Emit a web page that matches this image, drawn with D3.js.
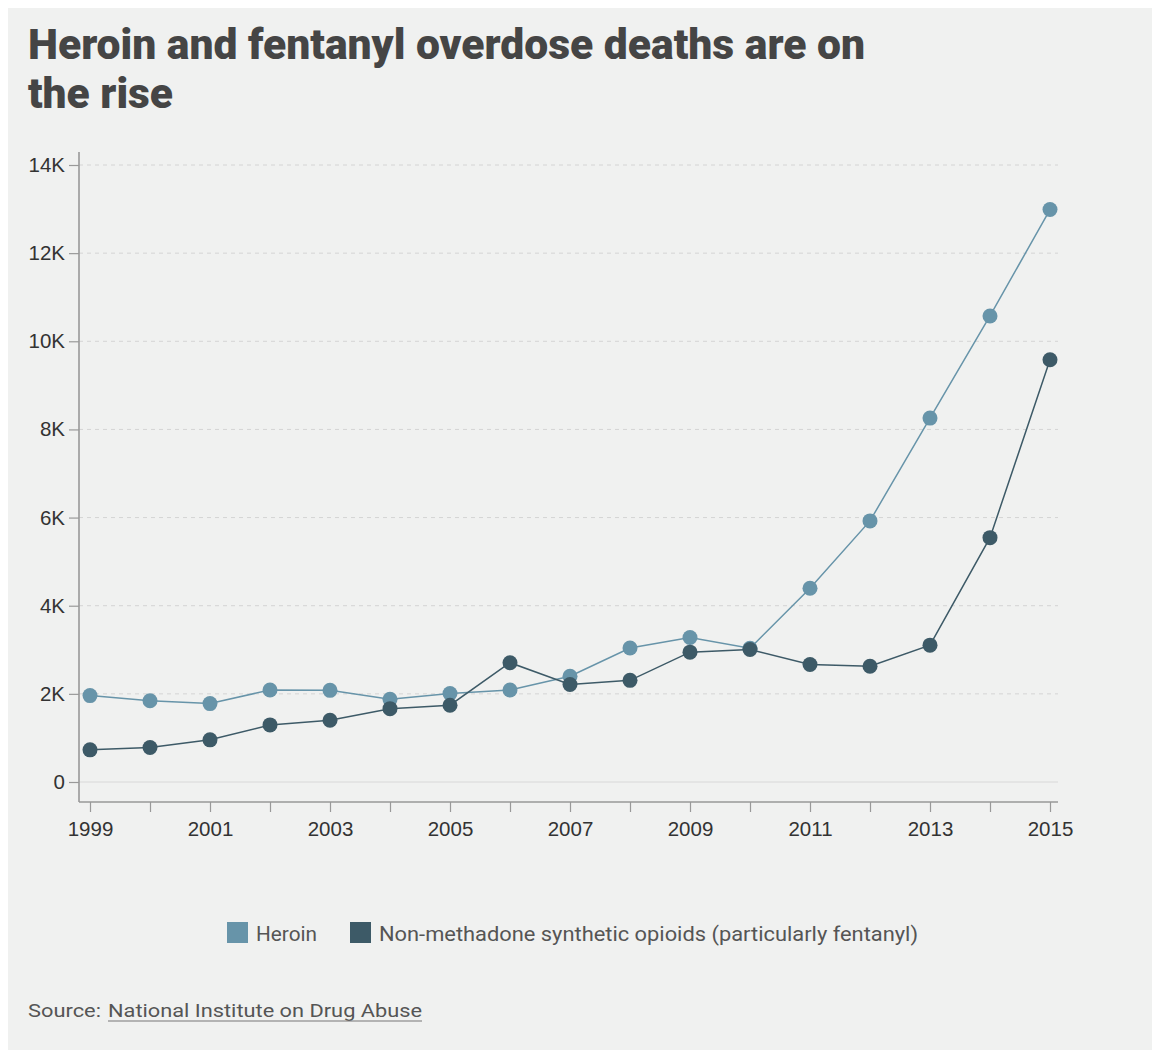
<!DOCTYPE html>
<html>
<head>
<meta charset="utf-8">
<script src="https://cdn.jsdelivr.net/npm/d3@7"></script>
<style>
  html, body { margin: 0; padding: 0; background: #ffffff; }
  svg { display: block; }
</style>
</head>
<body>
<svg id="chart" width="1154" height="1053"></svg>
<script>
// ---- data ----
const years = [1999, 2000, 2001, 2002, 2003, 2004, 2005, 2006, 2007, 2008, 2009, 2010, 2011, 2012, 2013, 2014, 2015];
const heroin = [1960, 1842, 1779, 2089, 2080, 1878, 2009, 2088, 2399, 3041, 3278, 3036, 4397, 5925, 8257, 10574, 12989];
const synthetic = [730, 782, 957, 1295, 1400, 1664, 1742, 2707, 2213, 2306, 2946, 3007, 2666, 2628, 3105, 5544, 9580];
const seriesNames = ["Heroin", "Non-methadone synthetic opioids (particularly fentanyl)"];
const seriesColors = ["#6794a9", "#3d5a67"];
const yTicks = [0, 2000, 4000, 6000, 8000, 10000, 12000, 14000];
const yTickLabels = ["0", "2K", "4K", "6K", "8K", "10K", "12K", "14K"];
const xLabelYears = [1999, 2001, 2003, 2005, 2007, 2009, 2011, 2013, 2015];
const titleLines = ["Heroin and fentanyl overdose deaths are on", "the rise"];
const sourceLabel = "Source:";
const sourceLink = "National Institute on Drug Abuse";

const svg = d3.select("#chart");

// panel background
svg.append("rect").attr("x", 8).attr("y", 8).attr("width", 1144).attr("height", 1042).attr("fill", "#f0f1f0");

// title
const title = svg.append("g");
title.append("text").attr("x", 28).attr("y", 59)
  .attr("font-family", "Roboto, 'Liberation Sans', sans-serif").attr("font-weight", 900)
  .attr("font-size", 42).attr("fill", "#454545")
  .attr("textLength", 837).attr("lengthAdjust", "spacingAndGlyphs")
  .text(titleLines[0]);
title.append("text").attr("x", 28).attr("y", 108)
  .attr("font-family", "Roboto, 'Liberation Sans', sans-serif").attr("font-weight", 900)
  .attr("font-size", 42).attr("fill", "#454545")
  .attr("textLength", 145).attr("lengthAdjust", "spacingAndGlyphs")
  .text(titleLines[1]);

// scales
const x = d3.scaleLinear().domain([1999, 2015]).range([90, 1050]);
const y = d3.scaleLinear().domain([0, 14000]).range([782, 165]);
const axisX0 = 79, axisX1 = 1058, axisY = 802;

// gridlines
svg.append("g").selectAll("line").data(yTicks).join("line")
  .attr("x1", axisX0).attr("x2", axisX1)
  .attr("y1", d => y(d)).attr("y2", d => y(d))
  .attr("stroke", d => d === 0 ? "#d8d8d8" : "#d4d4d4")
  .attr("stroke-width", 1)
  .attr("stroke-dasharray", d => d === 0 ? null : "4,4");

// y axis
const yAxis = d3.axisLeft(y).tickValues(yTicks)
  .tickFormat((d, i) => yTickLabels[i]).tickSize(10).tickPadding(4);
const gy = svg.append("g").attr("transform", `translate(${axisX0},0)`).call(yAxis);
gy.select(".domain").remove();
gy.selectAll(".tick line").attr("stroke", "#999").attr("stroke-width", 1.2);
gy.selectAll(".tick text").attr("font-family", "'Liberation Sans', Arial, sans-serif")
  .attr("font-size", 20.5).attr("fill", "#333");
svg.append("line").attr("x1", axisX0).attr("x2", axisX0).attr("y1", 152).attr("y2", axisY)
  .attr("stroke", "#999").attr("stroke-width", 1.6);

// x axis
const xAxis = d3.axisBottom(x).tickValues(years)
  .tickFormat(d => xLabelYears.includes(d) ? String(d) : "").tickSize(10).tickPadding(9);
const gx = svg.append("g").attr("transform", `translate(0,${axisY})`).call(xAxis);
gx.select(".domain").remove();
gx.selectAll(".tick line").attr("stroke", "#999").attr("stroke-width", 1.2);
gx.selectAll(".tick text").attr("font-family", "'Liberation Sans', Arial, sans-serif")
  .attr("font-size", 20.5).attr("fill", "#333");
svg.append("line").attr("x1", axisX0).attr("x2", axisX1).attr("y1", axisY).attr("y2", axisY)
  .attr("stroke", "#999").attr("stroke-width", 1.6);

// series
const series = [heroin, synthetic];
const line = d3.line().x((d, i) => x(years[i])).y(d => y(d));
series.forEach((vals, si) => {
  const g = svg.append("g");
  g.append("path").datum(vals).attr("d", line)
    .attr("fill", "none").attr("stroke", seriesColors[si]).attr("stroke-width", 1.5);
  g.selectAll("circle").data(vals).join("circle")
    .attr("cx", (d, i) => x(years[i])).attr("cy", d => y(d)).attr("r", 7.5)
    .attr("fill", seriesColors[si]);
});

// legend
const legendPos = [{x: 227, w: 61}, {x: 350, w: 539}];
const leg = svg.append("g");
seriesNames.forEach((name, i) => {
  leg.append("rect").attr("x", legendPos[i].x).attr("y", 922).attr("width", 21).attr("height", 21)
    .attr("fill", seriesColors[i]);
  leg.append("text").attr("x", legendPos[i].x + 29).attr("y", 941)
    .attr("font-family", "Roboto, 'Noto Sans', sans-serif").attr("font-size", 20)
    .attr("fill", "#555")
    .attr("textLength", legendPos[i].w).attr("lengthAdjust", "spacingAndGlyphs")
    .text(name);
});

// source
svg.append("text").attr("x", 28).attr("y", 1017)
  .attr("font-family", "Roboto, 'Noto Sans', sans-serif").attr("font-size", 19).attr("fill", "#555")
  .attr("textLength", 73).attr("lengthAdjust", "spacingAndGlyphs")
  .text(sourceLabel);
svg.append("text").attr("x", 108).attr("y", 1017)
  .attr("font-family", "Roboto, 'Noto Sans', sans-serif").attr("font-size", 19).attr("fill", "#555")
  .attr("textLength", 314).attr("lengthAdjust", "spacingAndGlyphs")
  .text(sourceLink);
svg.append("line").attr("x1", 108).attr("x2", 422).attr("y1", 1021).attr("y2", 1021)
  .attr("stroke", "#777").attr("stroke-width", 1.2);
</script>
</body>
</html>
